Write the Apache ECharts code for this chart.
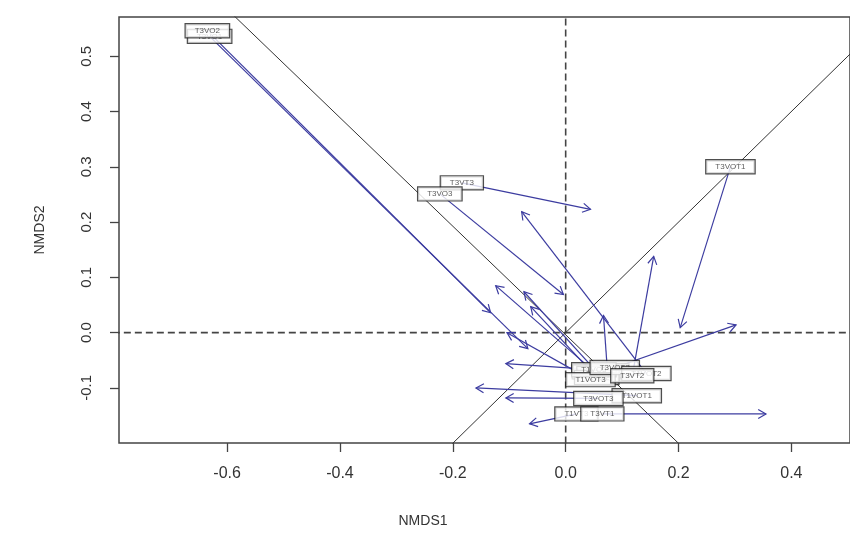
<!DOCTYPE html>
<html>
<head>
<meta charset="utf-8">
<script src="https://cdn.jsdelivr.net/npm/echarts@6/dist/echarts.min.js"></script>
<style>
  html, body { margin: 0; padding: 0; background: #fff; }
  #chart-container { width: 850px; height: 546px; }
</style>
</head>
<body>
<div id="chart-container"></div>
<script>
// 站点名称（标签框画在起点）
var siteNames = ['T1VT1', 'T1VO1', 'T1VT2', 'T1VO2', 'T1VO3', 'T1VOT3',
  'T3VO1', 'T3VO2', 'T3VT3', 'T3VO3', 'T3VOT1',
  'T3VOT2', 'T1VOT2', 'T3VT2', 'T1VOT1', 'T3VOT3', 'T1VT3', 'T3VT1'];
// 目标坐标 (NMDS1, NMDS2)
var targetX = [0.074, 0.051, 0.058, 0.055, 0.050, 0.044,
  -0.631, -0.635, -0.184, -0.223, 0.292,
  0.087, 0.143, 0.118, 0.126, 0.058, 0.019, 0.065];
var targetY = [-0.069, -0.071, -0.074, -0.081, -0.067, -0.085,
  0.536, 0.546, 0.271, 0.251, 0.300,
  -0.063, -0.074, -0.078, -0.114, -0.119, -0.147, -0.147];
// 旋转后坐标（箭头终点）
var rotX = [0.067, -0.124, -0.074, -0.062, -0.106, -0.104,
  -0.067, -0.133, 0.044, -0.004, 0.203,
  0.302, -0.078, 0.156, -0.159, -0.106, -0.064, 0.355];
var rotY = [0.031, 0.085, 0.074, 0.047, -0.056, 0.000,
  -0.029, 0.036, 0.223, 0.069, 0.009,
  0.014, 0.219, 0.138, -0.100, -0.118, -0.165, -0.147];

// 刻度
var xTicks = [-0.6, -0.4, -0.2, 0.0, 0.2, 0.4];
var yTicks = [-0.1, 0.0, 0.1, 0.2, 0.3, 0.4, 0.5];

// Procrustes 旋转轴（过原点的两条直线）
var rotAxis1 = [[-0.615, 0.60], [0.21, -0.21]];
var rotAxis2 = [[-0.21, -0.21], [0.55, 0.55]];

var arrowColor = '#3c3ca0';
var fontFamily = '"Liberation Sans", Arial, sans-serif';

var arrowData = [];
var labelData = [];
for (var i = 0; i < siteNames.length; i++) {
  arrowData.push([targetX[i], targetY[i], rotX[i], rotY[i]]);
  labelData.push({ name: siteNames[i], value: [targetX[i], targetY[i]] });
}

// 画箭头（开口 V 形箭头，和 R 的 arrows() 一样）
function renderArrow(params, api) {
  var p0 = api.coord([api.value(0), api.value(1)]);
  var p1 = api.coord([api.value(2), api.value(3)]);
  var ang = Math.atan2(p1[1] - p0[1], p1[0] - p0[0]);
  var len = 9, spread = Math.PI / 6;
  var h1 = [p1[0] - len * Math.cos(ang - spread), p1[1] - len * Math.sin(ang - spread)];
  var h2 = [p1[0] - len * Math.cos(ang + spread), p1[1] - len * Math.sin(ang + spread)];
  return {
    type: 'group',
    children: [
      { type: 'line', shape: { x1: p0[0], y1: p0[1], x2: p1[0], y2: p1[1] },
        style: { stroke: arrowColor, lineWidth: 1.2 } },
      { type: 'polyline', shape: { points: [h1, p1, h2] },
        style: { stroke: arrowColor, fill: null, lineWidth: 1.2 } }
    ]
  };
}

var container = document.getElementById('chart-container');
var myChart = echarts.init(container);

myChart.setOption({
  animation: false,
  backgroundColor: '#fff',
  grid: {
    left: 119, top: 17, width: 733, height: 426,
    show: true, borderColor: '#444', borderWidth: 1.5, backgroundColor: 'transparent'
  },
  xAxis: {
    type: 'value',
    min: -0.7916, max: 0.5039,
    name: 'NMDS1', nameLocation: 'middle', nameGap: 71,
    nameTextStyle: { fontSize: 14, color: '#333', fontFamily: fontFamily, padding: [0, 123, 0, 0] },
    splitLine: { show: false },
    axisLine: { show: false, onZero: false },
    axisTick: { show: true, inside: false, length: 9, customValues: xTicks,
      lineStyle: { color: '#444', width: 1.3 } },
    axisLabel: { customValues: xTicks, margin: 23, fontSize: 16, color: '#333',
      fontFamily: fontFamily, formatter: function (v) { return v.toFixed(1); } }
  },
  yAxis: {
    type: 'value',
    min: -0.1996, max: 0.571,
    name: 'NMDS2', nameLocation: 'middle', nameGap: 72, nameRotate: 90,
    nameTextStyle: { fontSize: 14, color: '#333', fontFamily: fontFamily },
    splitLine: { show: false },
    axisLine: { show: false, onZero: false },
    axisTick: { show: true, inside: false, length: 9, customValues: yTicks,
      lineStyle: { color: '#444', width: 1.3 } },
    axisLabel: { customValues: yTicks, margin: 25, rotate: 90, fontSize: 15, color: '#333',
      fontFamily: fontFamily, formatter: function (v) { return v.toFixed(1); } }
  },
  series: [
    {
      name: 'zero-h', type: 'line', symbol: 'none', z: 1, silent: true,
      data: [[-0.9, 0], [0.6, 0]],
      lineStyle: { color: '#444', width: 1.6, type: [7, 4] }
    },
    {
      name: 'zero-v', type: 'line', symbol: 'none', z: 1, silent: true,
      data: [[0, -0.3], [0, 0.7]],
      lineStyle: { color: '#444', width: 1.6, type: [7, 4] }
    },
    {
      name: 'axis1', type: 'line', symbol: 'none', z: 2, silent: true,
      data: rotAxis1, lineStyle: { color: '#333', width: 1 }
    },
    {
      name: 'axis2', type: 'line', symbol: 'none', z: 2, silent: true,
      data: rotAxis2, lineStyle: { color: '#333', width: 1 }
    },
    {
      name: 'arrows', type: 'custom', z: 3, silent: true,
      renderItem: renderArrow,
      encode: { x: [0, 2], y: [1, 3] },
      clip: true,
      data: arrowData
    },
    {
      name: 'labels', type: 'scatter', z: 5, silent: true,
      symbolSize: 0,
      label: {
        show: true, position: 'inside', formatter: '{b}',
        fontSize: 8, color: '#333', fontFamily: fontFamily,
        backgroundColor: '#fff', borderColor: '#222', borderWidth: 1.2,
        padding: [3, 9, 2, 9]
      },
      data: labelData
    }
  ]
});
</script>
</body>
</html>
